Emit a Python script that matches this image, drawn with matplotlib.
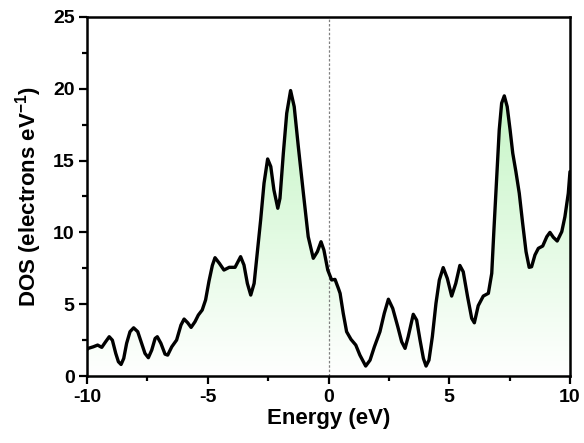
import numpy as np
import matplotlib
matplotlib.use('Agg')
import matplotlib.pyplot as plt
from matplotlib.colors import LinearSegmentedColormap
from matplotlib.ticker import MultipleLocator

plt.rcParams['font.family'] = ['Liberation Sans', 'DejaVu Sans']
plt.rcParams['font.weight'] = 'bold'
plt.rcParams['axes.unicode_minus'] = False
plt.rcParams['mathtext.fontset'] = 'custom'
plt.rcParams['mathtext.rm'] = 'Liberation Sans:bold'
plt.rcParams['mathtext.bf'] = 'Liberation Sans:bold'

# DOS curve
energy = [-10.0, -9.95, -9.74, -9.56, -9.39, -9.23, -9.08, -8.95, -8.81, -8.7,
          -8.59, -8.48, -8.36, -8.22, -8.07, -7.9, -7.76, -7.6, -7.46, -7.32,
          -7.18, -7.09, -6.94, -6.77, -6.66, -6.49, -6.29, -6.11, -5.98, -5.83,
          -5.69, -5.53, -5.39, -5.23, -5.09, -4.95, -4.81, -4.70, -4.52, -4.33,
          -4.11, -3.87, -3.64, -3.5, -3.36, -3.22, -3.08, -2.95, -2.81, -2.67,
          -2.52, -2.39, -2.26, -2.1, -2.01, -1.87, -1.73, -1.57, -1.42, -1.25,
          -1.04, -0.84, -0.63, -0.46, -0.31, -0.19, -0.03, 0.13, 0.27, 0.41,
          0.48, 0.61, 0.75, 0.93, 1.13, 1.3, 1.54, 1.72, 1.9, 2.13,
          2.31, 2.48, 2.66, 2.87, 3.03, 3.17, 3.3, 3.51, 3.65, 3.79,
          3.93, 4.04, 4.16, 4.3, 4.45, 4.59, 4.75, 4.92, 5.1, 5.27,
          5.44, 5.58, 5.76, 5.93, 6.04, 6.2, 6.41, 6.62, 6.76, 6.85,
          6.96, 7.07, 7.17, 7.28, 7.4, 7.52, 7.63, 7.76, 7.9, 8.04,
          8.18, 8.31, 8.41, 8.55, 8.69, 8.87, 9.04, 9.17, 9.31, 9.47,
          9.66, 9.79, 9.93, 10.0]
dos = [1.85, 1.93, 2.04, 2.16, 2.0, 2.39, 2.74, 2.5, 1.58, 1.0,
       0.81, 1.23, 2.28, 3.09, 3.36, 3.09, 2.39, 1.58, 1.28, 1.81,
       2.62, 2.74, 2.28, 1.53, 1.46, 2.04, 2.51, 3.55, 3.97, 3.71,
       3.39, 3.78, 4.25, 4.6, 5.3, 6.6, 7.7, 8.24, 7.85, 7.38,
       7.57, 7.57, 8.31, 7.73, 6.45, 5.64, 6.45, 8.54, 10.86, 13.42,
       15.11, 14.58, 12.95, 11.68, 12.37, 15.51, 18.29, 19.87, 18.75, 15.97,
       12.72, 9.7, 8.2, 8.66, 9.35, 8.77, 7.38, 6.69, 6.73, 6.1,
       5.76, 4.37, 3.09, 2.56, 2.16, 1.46, 0.7, 1.11, 2.04, 3.09,
       4.37, 5.35, 4.71, 3.43, 2.39, 1.93, 2.74, 4.3, 3.9, 2.51,
       1.23, 0.7, 1.11, 2.74, 5.06, 6.69, 7.55, 6.8, 5.57, 6.45,
       7.7, 7.26, 5.52, 4.02, 3.71, 4.9, 5.57, 5.76, 7.15, 10.17,
       13.65, 17.13, 18.99, 19.5, 18.75, 17.13, 15.51, 14.23, 12.72, 10.63,
       8.66, 7.57, 7.61, 8.43, 8.89, 9.05, 9.7, 10.0, 9.66, 9.4,
       10.05, 11.09, 12.72, 14.23]

fig = plt.figure(figsize=(5.84, 4.43), dpi=100)
ax = fig.add_axes([0.149, 0.151, 0.827, 0.811])

# green-to-white vertical gradient under the curve
cmap = LinearSegmentedColormap.from_list('gw', ['#ffffff', '#c4f5c4'])
grad = np.linspace(0, 1, 256).reshape(-1, 1)
im = ax.imshow(grad, extent=[-10, 10, 0, 20], origin='lower', aspect='auto',
               cmap=cmap, zorder=1)
poly = ax.fill_between(energy, dos, 0, color='none', lw=0)
im.set_clip_path(poly.get_paths()[0], transform=ax.transData)

ax.plot(energy, dos, color='black', lw=2.4, zorder=3,
        solid_joinstyle='round', solid_capstyle='round')
ax.axvline(0, color='gray', ls='--', lw=0.9, dashes=(2, 1.5), zorder=2)

ax.set_xlim(-10, 10)
ax.set_ylim(0, 25)
ax.xaxis.set_major_locator(MultipleLocator(5))
ax.xaxis.set_minor_locator(MultipleLocator(2.5))
ax.yaxis.set_major_locator(MultipleLocator(5))
ax.yaxis.set_minor_locator(MultipleLocator(2.5))
ax.tick_params(which='major', direction='out', length=6, width=1.6,
               labelsize=14, pad=3)
ax.tick_params(which='minor', direction='out', length=3.5, width=1.6)
for s in ax.spines.values():
    s.set_linewidth(1.8)

ax.set_xlabel('Energy (eV)', fontsize=16, fontweight='bold', labelpad=2)
ax.set_ylabel(r'DOS (electrons eV$^{-1}$)', fontsize=16, fontweight='bold',
              labelpad=6)

fig.savefig('out.png', dpi=100)
